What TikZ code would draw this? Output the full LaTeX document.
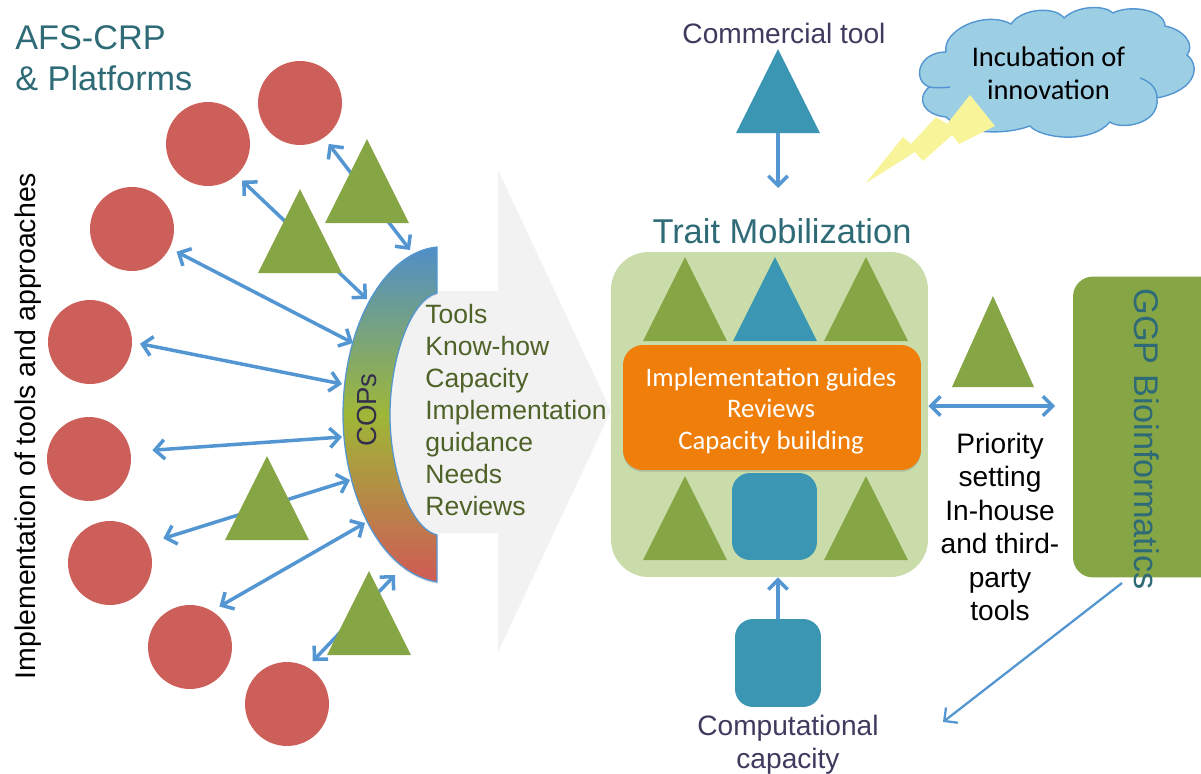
\documentclass[tikz,border=0pt]{standalone}
\usepackage{fontspec}
\setmainfont{Liberation Sans}
\newfontfamily\calfont{Carlito}
\usetikzlibrary{arrows.meta, positioning, calc, shapes.geometric, shadows}
\definecolor{linkblue}{HTML}{5496D2}
\definecolor{redball}{HTML}{CD5F5A}
\definecolor{leaf}{HTML}{86A545}
\definecolor{seablue}{HTML}{3A96B2}
\definecolor{palegreen}{HTML}{CADCA9}
\definecolor{deepteal}{HTML}{2E6B76}
\definecolor{olivetext}{HTML}{4F6228}
\definecolor{duskpurple}{HTML}{3F3A5E}
\definecolor{cloudfill}{HTML}{9CCFE4}
\definecolor{boltyellow}{HTML}{F8F49A}
\definecolor{guideorange}{HTML}{EF7F0A}
\tikzset{%
  x=0.02cm, y=-0.02cm,
  linkarrow/.style={draw=linkblue, line width=2pt, >={Straight Barb[length=5.5pt,width=11pt]}},
  ball/.style={circle, fill=redball, minimum size=1.68cm, inner sep=0pt, outer sep=0.16cm},
  tri/.style={isosceles triangle, isosceles triangle stretches, shape border rotate=90,
    fill=leaf, minimum width=1.68cm, minimum height=1.68cm, inner sep=0pt, outer sep=0pt, anchor=lower side},
  bluetri/.style={tri, fill=seablue},
  sqbox/.style={rectangle, rounded corners=0.36cm, fill=seablue, minimum size=1.7cm, inner sep=0pt},
  label16/.style={align=center, font=\fontsize{16}{19}\selectfont}
}
\begin{document}
\begin{tikzpicture}
    \useasboundingbox (0,0) rectangle (1201,774);

    % big grey arrow behind the list
    \fill[black!5] (390,291) -- (498,291) -- (498,170) -- (611,411) -- (498,652) -- (498,533) -- (390,533) -- cycle;

    % circles
    \node[ball] (c1) at (300,103) {};
    \node[ball] (c2) at (208,144) {};
    \node[ball] (c3) at (132,229) {};
    \node[ball] (c4) at (90,342) {};
    \node[ball] (c5) at (89,459) {};
    \node[ball] (c6) at (110,563) {};
    \node[ball] (c7) at (190,647) {};
    \node[ball] (c8) at (287,704) {};

    % where the arrows meet the arc
    \coordinate (e1) at (410,250);
    \coordinate (e2) at (367,299);
    \coordinate (e3) at (353,343);
    \coordinate (e4) at (342,384);
    \coordinate (e5) at (342,437);
    \coordinate (e6) at (350,480);
    \coordinate (e7) at (365,523);
    \coordinate (e8) at (395,575);

    \draw[linkarrow, <->] (c1.-55) -- (e1);
    \draw[linkarrow, <->] (c2.-47) -- (e2);
    \draw[linkarrow, <->] (c3.-27) -- (e3);
    \draw[linkarrow, <->] (c4.-2) -- (e4);
    \draw[linkarrow, <->, shorten <=8pt] (c5.9) -- (e5);
    \draw[linkarrow, <->, shorten <=5pt] (c6.26) -- (e6);
    \draw[linkarrow, <->] (c7.54) -- (e7);
    \draw[linkarrow, <->] (c8.59) -- (e8);

    % COPs arc
    \path[draw=linkblue, line width=0.7pt, top color=linkblue!95!black, bottom color=redball!95!red, middle color=leaf!80!yellow,
        drop shadow={shadow xshift=0pt, shadow yshift=-1pt, opacity=.25}]
        (437,247) .. controls (385,252) and (343,325) .. (343,415)
        .. controls (343,490) and (378,572) .. (437,582)
        -- (437,535) .. controls (410,528) and (390,470) .. (390,415)
        .. controls (390,360) and (410,300) .. (437,293) -- cycle;
    \node[rotate=90, text=duskpurple!80!black, font=\fontsize{15.7}{19}\selectfont] (cops) at (367,410) {COPs};

    \node[tri] (t1) at (367,223) {};
    \node[tri] (t2) at (300,273) {};
    \node[tri] (t3) at (267,540) {};
    \node[tri] (t4) at (369,655) {};

    \node[anchor=west, inner sep=0pt, align=left, text=olivetext, font=\fontsize{15.1}{18.2}\selectfont] (needs) at (425,410)
        {Tools\\Know-how\\Capacity\\Implementation\\guidance\\Needs\\Reviews};

    \node[anchor=north west, inner sep=0pt, align=left, text=deepteal, font=\fontsize{19.5}{23.2}\selectfont] (afs) at (15,25)
        {AFS-CRP\\\& Platforms};
    \node[rotate=90, font=\fontsize{16.2}{19}\selectfont] (impl) at (28,426) {Implementation of tools and approaches};

    % commercial tool on top
    \node[text=duskpurple, label16] (commtext) at (784,33) {Commercial tool};
    \node[bluetri] (comm) at (778,133) {};
    \coordinate (commend) at (778,188);
    \draw[linkarrow, ->] (comm.lower side) -- (commend);

    % cloud and bolt
    \draw[draw=linkblue, line width=0.8pt, fill=cloudfill]
        (929,87) .. controls (912,80) and (918,52) .. (946,52)
        .. controls (942,30) and (985,10) .. (1011,24)
        .. controls (1022,8) and (1055,6) .. (1064,18)
        .. controls (1078,5) and (1105,5) .. (1113,13)
        .. controls (1130,4) and (1165,10) .. (1165,26)
        .. controls (1185,30) and (1195,45) .. (1187,55)
        .. controls (1200,65) and (1198,90) .. (1157,98)
        .. controls (1160,125) and (1120,130) .. (1110,122)
        .. controls (1090,145) and (1040,138) .. (1030,126)
        .. controls (1005,135) and (965,135) .. (946,117)
        .. controls (925,115) and (915,100) .. (929,87) -- cycle;
    \draw[draw=linkblue, line width=0.8pt] (929,87) .. controls (935,88) and (943,88) .. (950,87);
    \draw[draw=linkblue, line width=0.8pt] (1140,78) .. controls (1152,82) and (1157,90) .. (1157,98);
    \node[align=center, font=\calfont\fontsize{16.2}{18.7}\selectfont] (cloud) at (1048.5,73) {Incubation of\\innovation};
    \fill[boltyellow] (866,183) -- (903,137) -- (911,144) -- (936,117) -- (947,124) -- (970,95) -- (995,126)
        -- (959,144) -- (952,135) -- (923,161) -- (915,152) -- cycle;

    % trait mobilization box
    \node[font=\fontsize{19.6}{24}\selectfont, text=deepteal] (title) at (782,231) {Trait Mobilization};
    \node[rectangle, rounded corners=0.75cm, fill=palegreen, minimum width=6.34cm, minimum height=6.5cm] (traitbox) at (769.5,414.5) {};
    \node[tri] (m1) at (685,341) {};
    \node[bluetri] (m2) at (775,341) {};
    \node[tri] (m3) at (866,341) {};
    \node[tri] (m4) at (685,560) {};
    \node[tri] (m5) at (866,560) {};
    \node[sqbox, minimum width=1.7cm, minimum height=1.74cm] (m6) at (774.5,516.5) {};
    \node[rectangle, rounded corners=0.4cm, fill=guideorange, minimum width=5.96cm, minimum height=2.5cm,
        drop shadow={shadow xshift=0pt, shadow yshift=-1pt, opacity=.35}] (guides) at (772,407.5) {};
    \node[align=center, text=white, font=\calfont\fontsize{15.2}{18.2}\selectfont] (guidetext) at (771,411)
        {Implementation guides\\Reviews\\Capacity building};

    % computational capacity
    \node[sqbox, minimum width=1.72cm, minimum height=1.76cm] (comp) at (778,663) {};
    \node[text=duskpurple, label16] (comptext) at (788,745) {Computational\\capacity};
    \draw[linkarrow, ->] (comp.north) -- (comp.north |- traitbox.south);

    % right side
    \node[tri, minimum width=1.64cm, minimum height=1.82cm] (t5) at (993,387) {};
    \coordinate (ggpin) at (1055,406);
    \draw[linkarrow, <->] (traitbox.east |- ggpin) -- (ggpin);
    \node[label16] (prio) at (1000,527) {Priority\\setting\\In-house\\and third-\\party\\tools};

    \node[rectangle, rounded corners=0.4cm, fill=leaf, minimum width=3.2cm, minimum height=6.02cm] (ggp) at (1153,427) {};
    \node[rotate=-90, text=deepteal, font=\fontsize{19.5}{23}\selectfont] (ggptext) at (1147,439) {GGP Bioinformatics};
    \coordinate (ggpout) at (1122,583);
    \coordinate (backend) at (943,722);
    \draw[linkarrow, ->, line width=1.3pt] (ggpout) -- (backend);
\end{tikzpicture}
\end{document}
